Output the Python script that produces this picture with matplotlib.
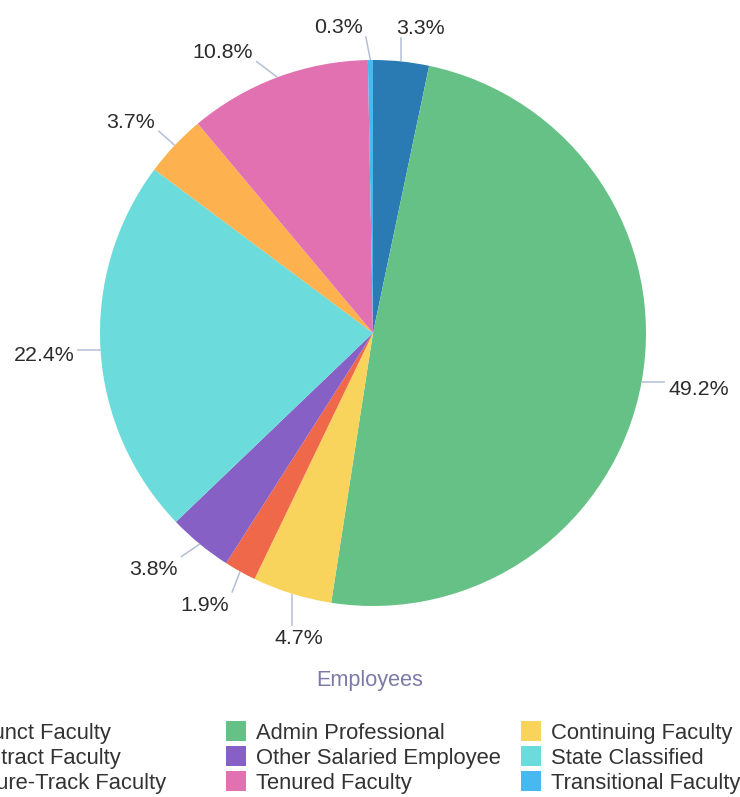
import matplotlib
matplotlib.use('Agg')
import matplotlib.pyplot as plt
import numpy as np
from matplotlib.patches import Rectangle

plt.rcParams['font.family'] = ['Liberation Sans', 'DejaVu Sans']

# ---- data ----
categories = ['Adjunct Faculty', 'Admin Professional', 'Continuing Faculty',
              'Contract Faculty', 'Other Salaried Employee', 'State Classified',
              'Tenure-Track Faculty', 'Tenured Faculty', 'Transitional Faculty']
values = [3.3, 49.2, 4.7, 1.9, 3.8, 22.4, 3.7, 10.8, 0.3]
colors = ['#2a7bb3', '#66c186', '#f8d45d', '#ef684a', '#8660c5',
          '#6cdbdb', '#fdb14f', '#e271b1', '#48b9ee']
title = 'Employees'

# ---- layout (pixels) ----
W, H = 740, 797
fig = plt.figure(figsize=(W / 100, H / 100), dpi=100)
ax = fig.add_axes([0, 0, 1, 1])

cx, cy, R = 373, H - 333, 273
wedges, _ = ax.pie(values, colors=colors, startangle=90, counterclock=False,
                   center=(cx, cy), radius=R,
                   wedgeprops=dict(linewidth=0, antialiased=True))
ax.set_xlim(0, W)
ax.set_ylim(0, H)
ax.set_aspect('equal')
ax.axis('off')

renderer = fig.canvas.get_renderer()

# data label placement tweaks (degrees) to mimic label de-overlapping
label_shift = [-2.8, 0.8, 3.6, -2.8, -3.7, 0.0, 2.1, 7.5, 5.9]
lab_fs = 15.4
lab_px = lab_fs * 100 / 72
cap = 0.716 * lab_px
gap = 26
for w, v, sh in zip(wedges, values, label_shift):
    a = np.deg2rad((w.theta1 + w.theta2) / 2)
    b = a + np.deg2rad(sh)
    txt = f'{v:.1f}%'
    t = ax.text(0, 0, txt, fontsize=lab_fs, color='#2b2b2b', ha='center', va='baseline')
    bb = t.get_window_extent(renderer)
    tw = bb.width
    half = abs(np.cos(b)) * tw / 2 + abs(np.sin(b)) * cap / 2
    rt = R + gap + half
    tx, ty = cx + rt * np.cos(b), cy + rt * np.sin(b)
    t.set_position((tx, ty - cap / 2))
    ex, ey = cx + R * np.cos(a), cy + R * np.sin(a)
    pad = 3
    nx = min(max(ex, tx - tw / 2 - pad), tx + tw / 2 + pad)
    ny = min(max(ey, ty - cap / 2 - pad), ty + cap / 2 + pad)
    ax.plot([ex, nx], [ey, ny], color='#b3c0d4', lw=1.1, solid_capstyle='butt', zorder=1)

# title
title_fs = 15.6
ax.text(369.5, H - 678 - 0.716 * title_fs * 100 / 72 / 2, title, fontsize=title_fs,
        color='#7a7aa8', ha='center', va='baseline')

# legend (3 columns, row-major), clipped at left edge like the reference
leg_fs = 15.8
leg_cap = 0.716 * leg_fs * 100 / 72
col_x0, col_dx = -69, 295
row_y0, row_dy = 731, 25
msize = 20
for i, (cat, col) in enumerate(zip(categories, colors)):
    r, c = divmod(i, 3)
    mx = col_x0 + c * col_dx
    my = H - (row_y0 + r * row_dy)
    ax.add_patch(Rectangle((mx, my - msize / 2), msize, msize, facecolor=col,
                           edgecolor='none', clip_on=False))
    ax.text(mx + 30, my - leg_cap / 2, cat, fontsize=leg_fs, color='#333333',
            ha='left', va='baseline', clip_on=False)

fig.savefig('out.png', dpi=100)
